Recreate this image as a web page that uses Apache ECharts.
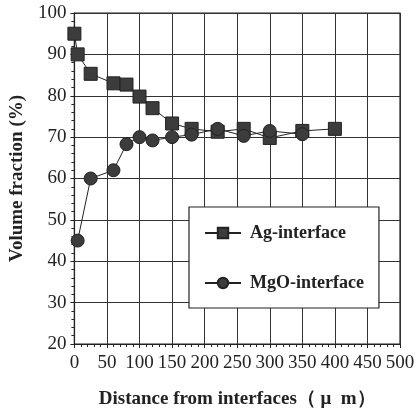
<!DOCTYPE html>
<html>
<head>
<meta charset="utf-8">
<script src="https://cdn.jsdelivr.net/npm/echarts@6/dist/echarts.min.js"></script>
<style>html,body{margin:0;padding:0;background:#fff}#c{width:418px;height:414px}</style>
</head>
<body>
<div id="c"></div>
<script>
const agX = [0, 5, 25, 60, 80, 100, 120, 150, 180, 220, 260, 300, 350, 400];
const agY = [95, 90, 85.3, 83, 82.7, 79.8, 77, 73.3, 72, 71.3, 72, 69.8, 71.5, 72];
const mgoX = [5, 25, 60, 80, 100, 120, 150, 180, 220, 260, 300, 350];
const mgoY = [45, 60, 62, 68.3, 70, 69.2, 70, 70.6, 72, 70.3, 71.5, 70.7];
const seriesNames = ['Ag-interface', 'MgO-interface'];
const xTitle = 'Distance from interfaces（ μ  m）';
const yTitle = 'Volume fraction (%)';

const FONT = '"Liberation Serif", "DejaVu Serif", serif';
const INK = '#222';
const chart = echarts.init(document.getElementById('c'), null, {renderer: 'canvas'});
const zip = (xs, ys) => xs.map((x, i) => [x, ys[i]]);
chart.setOption({
  animation: false,
  backgroundColor: '#fff',
  grid: {left: 74, right: 18, top: 13, bottom: 70, show: true, borderColor: INK, borderWidth: 1.2},
  xAxis: {
    type: 'value', min: 0, max: 500, interval: 50,
    name: xTitle, nameLocation: 'middle', nameGap: 46,
    nameTextStyle: {fontFamily: FONT, fontSize: 19, fontWeight: 'bold', color: INK},
    axisLine: {lineStyle: {color: INK, width: 1.2}},
    axisTick: {show: true, length: 4, lineStyle: {color: INK}},
    minorTick: {show: true, splitNumber: 5, length: 3, lineStyle: {color: INK}},
    axisLabel: {fontFamily: FONT, fontSize: 19, color: INK, margin: 10},
    splitLine: {show: true, lineStyle: {color: '#333', width: 1}}
  },
  yAxis: {
    type: 'value', min: 20, max: 100, interval: 10,
    name: yTitle, nameLocation: 'middle', nameGap: 35, nameRotate: 90,
    nameTextStyle: {fontFamily: FONT, fontSize: 19, fontWeight: 'bold', color: INK},
    axisLine: {lineStyle: {color: INK, width: 1.2}},
    axisTick: {show: true, length: 4, lineStyle: {color: INK}},
    minorTick: {show: true, splitNumber: 5, length: 3, lineStyle: {color: INK}},
    axisLabel: {fontFamily: FONT, fontSize: 19, color: INK, margin: 8},
    splitLine: {show: true, lineStyle: {color: '#333', width: 1}}
  },
  legend: {
    left: 189, top: 207, orient: 'vertical',
    padding: [17, 15, 16, 15], itemGap: 32,
    backgroundColor: '#fff', borderColor: INK, borderWidth: 1.2,
    itemWidth: 36, itemHeight: 13,
    textStyle: {fontFamily: FONT, fontSize: 18, fontWeight: 'bold', color: INK, padding: [0, 0, 0, 4]},
    data: seriesNames
  },
  series: [
    {
      name: seriesNames[0], type: 'line', data: zip(agX, agY),
      symbol: 'rect', symbolSize: 13,
      lineStyle: {color: INK, width: 1},
      itemStyle: {color: '#3c3c3c', borderColor: '#222', borderWidth: 1}
    },
    {
      name: seriesNames[1], type: 'line', data: zip(mgoX, mgoY),
      symbol: 'circle', symbolSize: 13,
      lineStyle: {color: INK, width: 1},
      itemStyle: {color: '#3c3c3c', borderColor: '#222', borderWidth: 1}
    }
  ]
});
</script>
</body>
</html>
